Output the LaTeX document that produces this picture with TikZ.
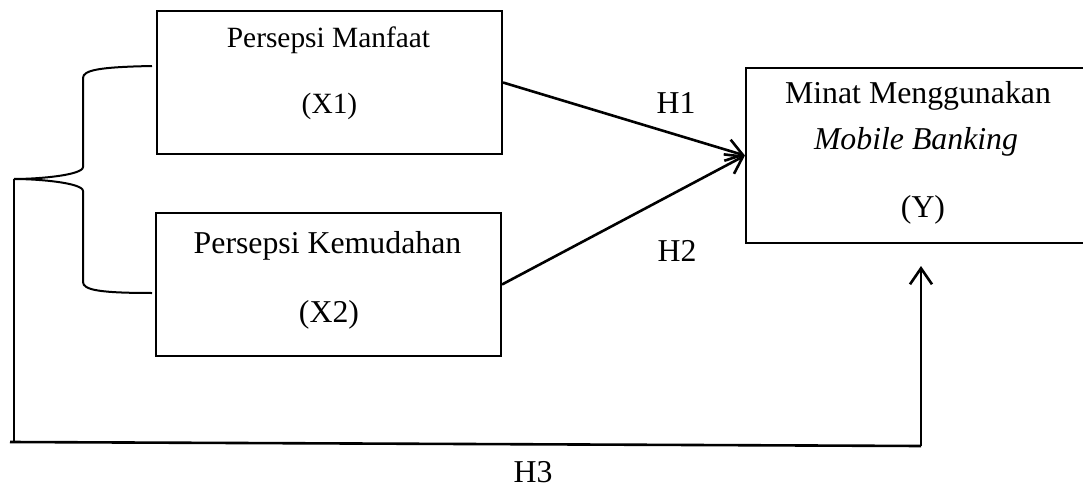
\documentclass[tikz,border=0pt]{standalone}
\usepackage{fontspec}
\setmainfont{Liberation Serif}
\usetikzlibrary{arrows.meta}

\begin{document}
\begin{tikzpicture}[x=0.5pt, y=-0.5pt,
  box/.style={draw, line width=1pt, minimum width=172.5pt, minimum height=71.5pt, inner sep=0pt},
  txt/.style={anchor=base, inner sep=0pt, font=\fontsize{15.9}{19}\selectfont},
  arr/.style={line width=1.3pt, -{Straight Barb[length=8pt, width=11pt, line width=1.3pt]}}]
\useasboundingbox (0,0) rectangle (1083,487);

%boxes
\node[box] (x1) at (329.5,82.5) {};
\node[box] (x2) at (328.5,284.5) {};
\node[box, minimum width=169.5pt, minimum height=87.5pt] (y) at (915.5,155.5) {};

%texts
\path (328.5,47) node[txt, font=\fontsize{14.7}{17}\selectfont] (t1) {Persepsi Manfaat};
\path (329.5,113) node[txt, font=\fontsize{14.7}{17}\selectfont] (t1b) {(X1)};
\path (327.5,253) node[txt] (t2) {Persepsi Kemudahan};
\path (329,322) node[txt] (t2b) {(X2)};
\path (918,103) node[txt] (t3) {Minat Menggunakan};
\path (916,149) node[txt] (t3b) {\itshape Mobile Banking};
\path (923,217) node[txt] (t3c) {(Y)};

%brace
\coordinate (tip) at (14,179);
\draw[line width=1pt] (152,66) .. controls (100,67) and (83,70) .. (83,78) -- (83,167)
   .. controls (83,175) and (40,179) .. (tip)
   .. controls (40,179) and (83,183) .. (83,191) -- (83,282)
   .. controls (83,290) and (100,293) .. (152,293);

%hypotheses
\draw[arr] (x1.east) to (y.west);
\draw[arr] (x2.east) to (y.west);
\path (676,113) node[txt] (h1) {H1};
\path (677,261) node[txt] (h2) {H2};

\coordinate (bl) at (14,442);
\coordinate (br) at (921,446);
\coordinate (yin) at (921,266);
\draw[line width=1.2pt] (tip) -- (bl);
\draw[line width=1.3pt] (10,442) -- (br);
\draw[arr] (br) -- (yin);
\path (533,482) node[txt] (h3) {H3};
\end{tikzpicture}
\end{document}
